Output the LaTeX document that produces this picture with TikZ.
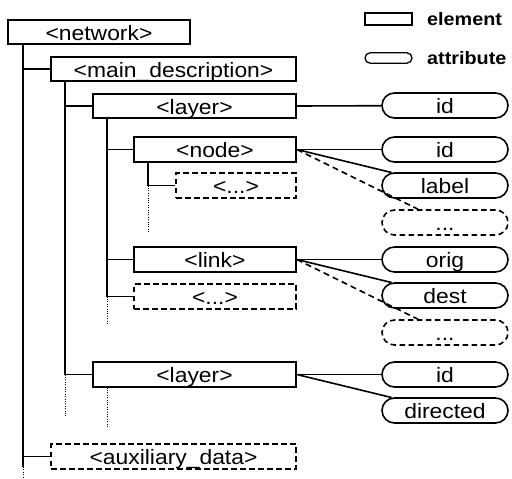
\documentclass[tikz,border=0pt]{standalone}
\usepackage{fontspec}
\setmainfont{Liberation Sans}[FakeStretch=1.1]
\usetikzlibrary{shapes.misc}
\begin{document}
\begin{tikzpicture}[x=1pt,y=-1pt,
  font=\fontsize{20.8}{22}\selectfont,
  elem/.style={draw,line width=1.6pt,rectangle,inner sep=0pt,
    minimum height=24.5pt,text height=16pt,text depth=0pt},
  optelem/.style={elem,dash pattern=on 5.5pt off 3.5pt},
  attr/.style={draw,line width=1.6pt,rounded rectangle,inner sep=0pt,
    minimum width=126pt,minimum height=25pt,text height=16pt,text depth=0pt},
  optattr/.style={attr,dash pattern=on 5.5pt off 3.5pt},
  tree/.style={line width=1.9pt},
  dots/.style={line width=1pt,dash pattern=on 1pt off 1.4pt},
  link/.style={line width=1.6pt},
  optlink/.style={line width=1.6pt,dash pattern=on 6pt off 4pt},
  legend/.style={font=\fontsize{18}{20}\selectfont\bfseries,anchor=west,inner sep=0pt}]
\useasboundingbox (0,0) rectangle (512,479);

% legend
\node[draw,line width=1.3pt,minimum width=47pt,minimum height=12pt,inner sep=0pt] (lgelem) at (388.5,19) {};
\node[legend] (lgelemtxt) at (427,19) {element};
\node[draw,line width=1.3pt,rounded rectangle,minimum width=47pt,minimum height=10.5pt,inner sep=0pt] (lgattr) at (388.5,58) {};
\node[legend] (lgattrtxt) at (427,58) {attribute};

% element boxes
\node[elem,minimum width=182pt] (network) at (99,32) {<network>};
\node[elem,minimum width=245pt] (main) at (173.5,69) {<main\_description>};
\node[elem,minimum width=203pt] (layerA) at (194.5,106) {<layer>};
\node[elem,minimum width=162pt] (nodeE) at (215,149.5) {<node>};
\node[optelem,minimum width=120pt] (moreA) at (236,185.5) {<...>};
\node[elem,minimum width=162pt] (linkE) at (215,259.5) {<link>};
\node[optelem,minimum width=162pt] (moreB) at (215,296.5) {<...>};
\node[elem,minimum width=203pt] (layerB) at (194.5,374.5) {<layer>};
\node[optelem,minimum width=245pt] (aux) at (173.5,456.5) {<auxiliary\_data>};

% attributes
\node[attr] (idA) at (445,105.5) {id};
\node[attr] (idB) at (445,149.5) {id};
\node[attr] (label) at (445,185.5) {label};
\node[optattr] (moreattrA) at (445,222.5) {...};
\node[attr] (orig) at (445,259.5) {orig};
\node[attr] (dest) at (445,295.5) {dest};
\node[optattr] (moreattrB) at (445,332.5) {...};
\node[attr] (idC) at (445,374.5) {id};
\node[attr] (directed) at (445,410.5) {directed};

% tree of nested elements
\coordinate (endA) at (23,467);
\coordinate (endAdots) at (23,477);
\draw[tree] (network.south -| endA) -- (endA);
\draw[tree] (main.west -| endA) -- (main.west);
\draw[tree] (aux.west -| endA) -- (aux.west);
\draw[dots] (endA) -- (endAdots);

\coordinate (endB) at (65,417);
\draw[tree] (main.south -| endB) -- (layerB.west -| endB) -- (layerB.west);
\draw[tree] (layerA.west -| endB) -- (layerA.west);
\draw[dots] (layerB.west -| endB) -- (endB);

\coordinate (endC) at (107,325);
\draw[tree] (layerA.south -| endC) -- (moreB.west -| endC) -- (moreB.west);
\draw[tree] (nodeE.west -| endC) -- (nodeE.west);
\draw[tree] (linkE.west -| endC) -- (linkE.west);
\draw[dots] (moreB.west -| endC) -- (endC);

\coordinate (endD) at (148,232);
\draw[tree] (nodeE.south -| endD) -- (moreA.west -| endD) -- (moreA.west);
\draw[dots] (moreA.west -| endD) -- (endD);

\coordinate (endE) at (107,428);
\draw[dots] (layerB.south -| endE) -- (endE);

% element to attribute links
\draw[link] (layerA.east) -- (idA);
\draw[link] (nodeE.east) -- (idB);
\draw[link] (nodeE.east) -- (label);
\draw[optlink] (nodeE.east) -- (moreattrA);
\draw[link] (linkE.east) -- (orig);
\draw[link] (linkE.east) -- (dest);
\draw[optlink] (linkE.east) -- (moreattrB);
\draw[link] (layerB.east) -- (idC);
\draw[link] (layerB.east) -- (directed);
\end{tikzpicture}
\end{document}
